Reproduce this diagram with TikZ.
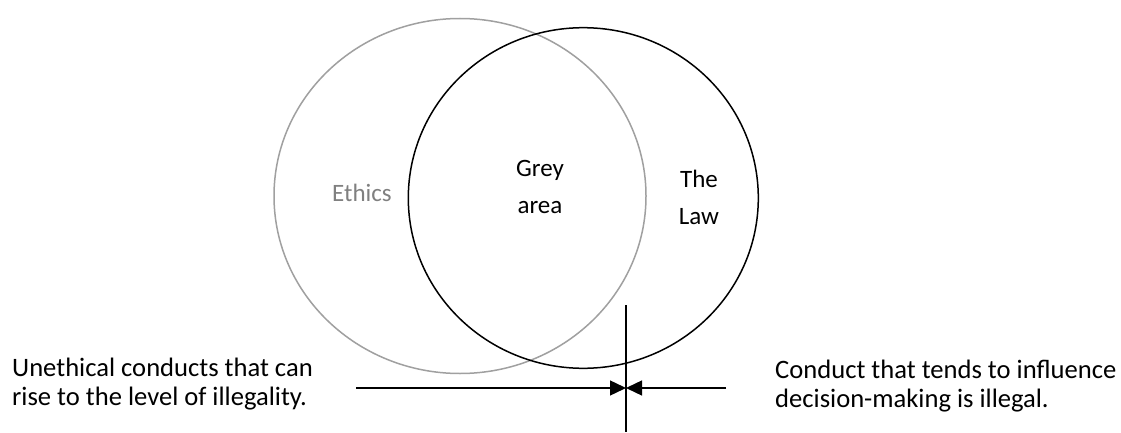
\documentclass[tikz,border=0pt]{standalone}
\usepackage{fontspec}
\setmainfont{Carlito}
\usetikzlibrary{arrows.meta}
\definecolor{ethgrey}{RGB}{160,160,160}
\definecolor{ethtext}{RGB}{128,128,128}
\tikzset{
  lbl/.style={inner sep=0pt, font=\fontsize{25}{37}\selectfont, align=center},
  note/.style={inner sep=0pt, font=\fontsize{26.6}{29}\selectfont, align=left, anchor=west},
  guide/.style={line width=1.4pt, black},
  pointer/.style={line width=1.4pt, black, -{Triangle[length=16pt,width=15pt]}},
}
\begin{document}
\begin{tikzpicture}[x=1pt,y=-1pt]
\useasboundingbox (0,0) rectangle (1121,433);
\fill[white] (0,0) rectangle (1121,433);
% circles
\draw[ethgrey, line width=1.5pt] (460,196) ellipse [x radius=186, y radius=177.5];
\draw[black, line width=1.5pt] (583.3,198) ellipse [x radius=175, y radius=170.3];
% labels
\node[lbl, text=ethtext] (eth) at (362,193) {Ethics};
\node[lbl] (grey) at (540,187) {Grey\\area};
\node[lbl] (law) at (699,197) {The\\Law};
% notes
\node[note] (left) at (12,384) {Unethical conducts that can\\rise to the level of illegality.};
\begin{scope}
\clip (0,0) rectangle (1121,411);
\node[note] (right) at (775,386) {Conduct that tends to influence\\decision-making is illegal.};
\end{scope}
% guides
\coordinate (vtop) at (626,305);
\coordinate (vbot) at (626,432);
\coordinate (mid) at (626,388);
\coordinate (lstart) at (356,388);
\coordinate (rstart) at (726,388);
\draw[guide] (vtop) -- (vbot);
\draw[pointer] (lstart) -- (mid);
\draw[pointer] (rstart) -- (mid);
\end{tikzpicture}
\end{document}
